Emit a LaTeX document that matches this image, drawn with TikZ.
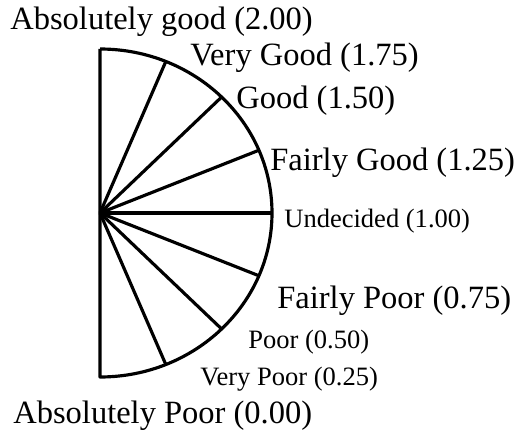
\documentclass[tikz,border=0pt]{standalone}
\usepackage{fontspec}
\setmainfont{Liberation Serif}
\usepackage{tikz}
\usetikzlibrary{positioning, calc}

\begin{document}
\begin{tikzpicture}[
  x=0.02cm, y=0.02cm,
  rim/.style={line width=1.8pt, line join=round},
  biglabel/.style={anchor=base west, inner sep=0pt, font=\fontsize{18.5}{20}\selectfont},
  smalllabel/.style={anchor=base west, inner sep=0pt, font=\fontsize{15.1}{17}\selectfont}
]
  \useasboundingbox (0,0) rectangle (528,437);
  \coordinate (hub) at (100,224);
  \coordinate (topend) at (100,388);
  \coordinate (botend) at (100,60);

  \draw[rim] (topend) -- (botend) arc[start angle=-90, end angle=90, x radius=172, y radius=164];
  \foreach \a/\nm in {67.5/vg, 45/g, 22.5/fg, 0/ud, -22.5/fp, -45/p, -67.5/vp} {
    \coordinate (\nm) at ($(hub)+({172*cos(\a)},{164*sin(\a)})$);
    \draw[rim] (hub) -- (\nm);
  }

  \node[biglabel] (lblag) at (10,407) {Absolutely good (2.00)};
  \node[biglabel] (lblvg) at (190,372) {Very Good (1.75)};
  \node[biglabel] (lblg) at (236,329) {Good (1.50)};
  \node[biglabel] (lblfg) at (270,267) {Fairly Good (1.25)};
  \node[smalllabel] (lblud) at (284,210) {Undecided (1.00)};
  \node[biglabel] (lblfp) at (277,129) {Fairly Poor (0.75)};
  \node[smalllabel] (lblp) at (248,89) {Poor (0.50)};
  \node[smalllabel] (lblvp) at (200,52) {Very Poor (0.25)};
  \node[biglabel] (lblap) at (13,14) {Absolutely Poor (0.00)};
\end{tikzpicture}
\end{document}
